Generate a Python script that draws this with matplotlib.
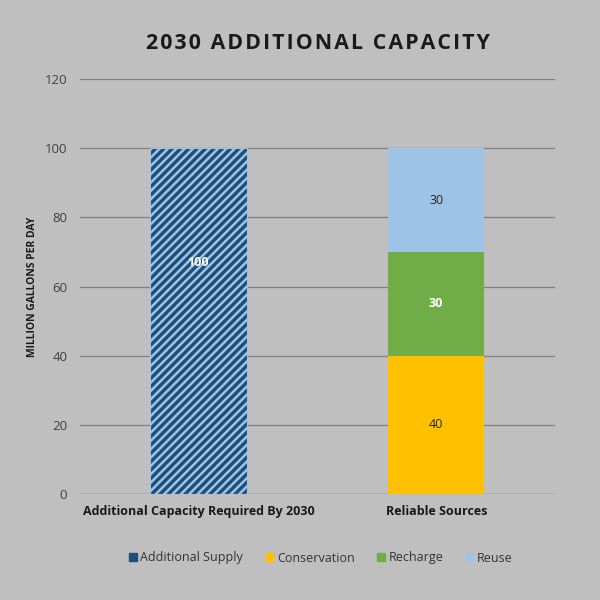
import matplotlib
matplotlib.use("Agg")
import matplotlib.pyplot as plt
from matplotlib.patches import Patch

categories = ["Additional Capacity Required By 2030", "Reliable Sources"]
additional_supply = [100, 0]
conservation = [0, 40]
recharge = [0, 30]
reuse = [0, 30]

BG = "#bfbfbf"
plt.rcParams["font.family"] = ["Open Sans", "DejaVu Sans"]
plt.rcParams["hatch.linewidth"] = 1.8

fig = plt.figure(figsize=(6, 6), dpi=100, facecolor=BG)
ax = fig.add_axes([0.133, 0.177, 0.792, 0.691], facecolor=BG)

x = [0, 1]
w = 0.405
ax.bar(x[0], additional_supply[0], w, color="#1f4e79", edgecolor="#9dc3e6",
       hatch="////", linewidth=0.8, zorder=3)
ax.bar(x[1], conservation[1], w, color="#ffc000", zorder=3)
ax.bar(x[1], recharge[1], w, bottom=conservation[1], color="#70ad47", zorder=3)
ax.bar(x[1], reuse[1], w, bottom=conservation[1] + recharge[1], color="#9dc3e6", zorder=3)

# labels
ax.text(x[0], 67, str(additional_supply[0]), ha="center", va="center",
        color="white", fontsize=9, fontweight="bold", zorder=4)
ax.text(x[1], conservation[1] / 2, str(conservation[1]), ha="center", va="center",
        color="#262626", fontsize=9, zorder=4)
ax.text(x[1], conservation[1] + recharge[1] / 2, str(recharge[1]), ha="center",
        va="center", color="white", fontsize=9, fontweight="bold", zorder=4)
ax.text(x[1], conservation[1] + recharge[1] + reuse[1] / 2, str(reuse[1]),
        ha="center", va="center", color="#262626", fontsize=9, zorder=4)

ax.set_xlim(-0.5, 1.5)
ax.set_ylim(0, 120)
ax.set_yticks(range(0, 121, 20))
ax.yaxis.grid(True, color="#7f7f7f", linewidth=0.9, zorder=0)
ax.set_axisbelow(True)
for s in ax.spines.values():
    s.set_visible(False)
ax.axhline(0, color="#7f7f7f", linewidth=0.9, zorder=2)
ax.tick_params(axis="y", length=0, labelsize=9.5, labelcolor="#404040", pad=9)
ax.tick_params(axis="x", length=0, pad=8)
ax.set_xticks(x)
ax.set_xticklabels(categories, fontsize=9, fontweight="bold", color="#1a1a1a")
ax.set_ylabel("MILLION GALLONS PER DAY", fontsize=7.5, fontweight="bold",
              color="#1a1a1a")
ax.yaxis.set_label_coords(-0.088, 0.5)

title = "\u200a".join("2030 ADDITIONAL CAPACITY")
fig.text(0.53, 0.928, title, ha="center", va="center",
         fontsize=15.3, fontweight="bold", color="#1a1a1a")

handles = [Patch(color="#1f4e79", label="Additional Supply"),
           Patch(color="#ffc000", label="Conservation"),
           Patch(color="#70ad47", label="Recharge"),
           Patch(color="#9dc3e6", label="Reuse")]
leg = fig.legend(handles=handles, loc="center", bbox_to_anchor=(0.535, 0.07),
                 ncol=4, frameon=False, fontsize=9, handlelength=0.6,
                 handleheight=0.6, columnspacing=1.8, handletextpad=0.3)
for t in leg.get_texts():
    t.set_color("#333333")

fig.savefig("out.png", dpi=100, facecolor=BG)
